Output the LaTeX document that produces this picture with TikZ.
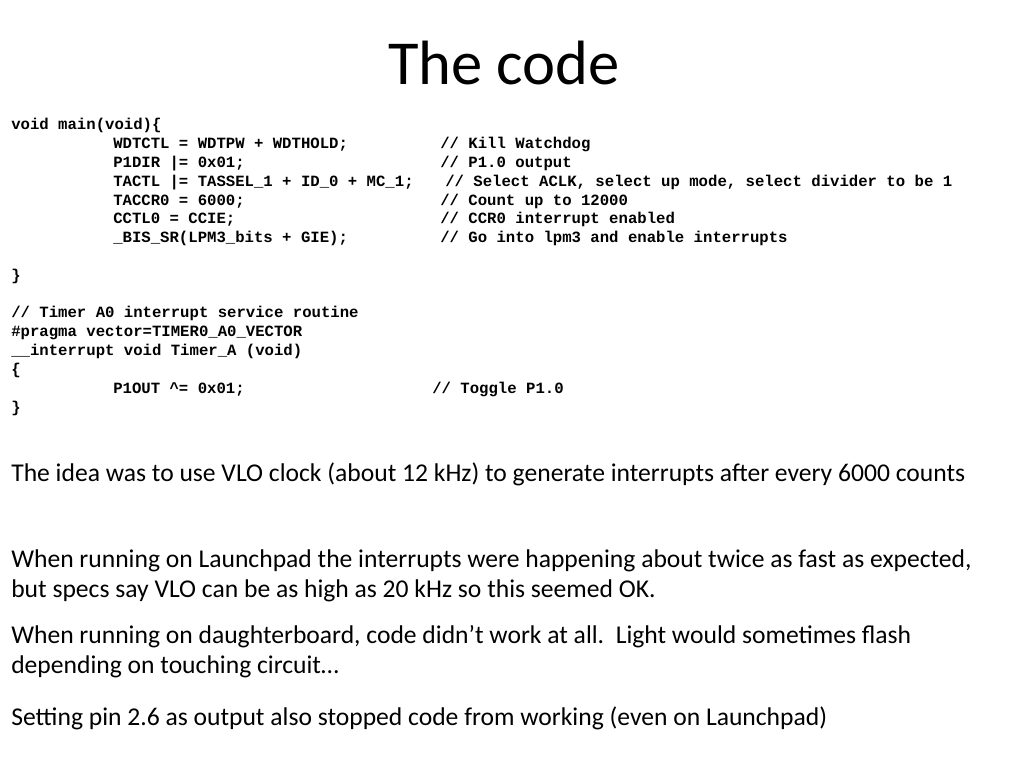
\documentclass[tikz,border=0pt]{standalone}
\usepackage{fontspec}
\setmainfont{Carlito}
\newfontfamily\codefont{Liberation Mono}
\begin{document}
\begin{tikzpicture}[x=0.703125pt,y=-0.703125pt,
  code/.style={anchor=base west,inner sep=0pt,font=\codefont\bfseries\fontsize{11}{13}\selectfont},
  body/.style={anchor=base west,inner sep=0pt,font=\fontsize{18}{22}\selectfont},
  title/.style={anchor=base,inner sep=0pt,font=\fontsize{44}{52}\selectfont}]
\useasboundingbox[fill=white] (0,0) rectangle (1024,768);
\node[title] (t) at (504,85) {The code};
% code lines
\node[code] (c0) at (11,130) {void main(void)\{};
\node[code] (c1) at (113,148.8) {WDTCTL = WDTPW + WDTHOLD;};
\node[code] (c2) at (113,167.6) {P1DIR |= 0x01;};
\node[code] (c3) at (113,186.4) {TACTL |= TASSEL\_1 + ID\_0 + MC\_1;};
\node[code] (c4) at (113,205.2) {TACCR0 = 6000;};
\node[code] (c5) at (113,224.0) {CCTL0 = CCIE;};
\node[code] (c6) at (113,242.8) {\_BIS\_SR(LPM3\_bits + GIE);};
\node[code] (c8) at (11,280.4) {\}};
\node[code] (c10) at (11,318.0) {// Timer A0 interrupt service routine};
\node[code] (c11) at (11,336.8) {\#pragma vector=TIMER0\_A0\_VECTOR};
\node[code] (c12) at (11,355.6) {\_\_interrupt void Timer\_A (void)};
\node[code] (c13) at (11,374.4) {\{};
\node[code] (c14) at (113,393.2) {P1OUT \^{}= 0x01;};
\node[code] (c15) at (11,412.0) {\}};
% comments
\node[code] (k1) at (440,148.8) {// Kill Watchdog};
\node[code] (k2) at (440,167.6) {// P1.0 output};
\node[code] (k3) at (445,186.4) {// Select ACLK, select up mode, select divider to be 1};
\node[code] (k4) at (440,205.2) {// Count up to 12000};
\node[code] (k5) at (440,224.0) {// CCR0 interrupt enabled};
\node[code] (k6) at (440,242.8) {// Go into lpm3 and enable interrupts};
\node[code] (k14) at (432,393.2) {// Toggle P1.0};
% body text
\node[body] (b1) at (11,481) {The idea was to use VLO clock (about 12 kHz) to generate interrupts after every 6000 counts};
\node[body] (b2) at (11,567) {When running on Launchpad the interrupts were happening about twice as fast as expected,};
\node[body] (b3) at (11,597) {but specs say VLO can be as high as 20 kHz so this seemed OK.};
\node[body] (b4) at (11,643) {When running on daughterboard, code didn’t work at all.\ \ Light would sometimes flash};
\node[body] (b5) at (11,673) {depending on touching circuit…};
\node[body] (b6) at (11,725) {Setting pin 2.6 as output also stopped code from working (even on Launchpad)};
\end{tikzpicture}
\end{document}
